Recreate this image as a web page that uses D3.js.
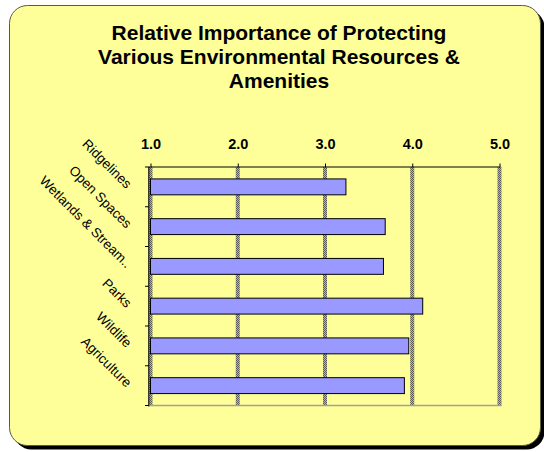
<!DOCTYPE html>
<html>
<head>
<meta charset="utf-8">
<script src="https://cdn.jsdelivr.net/npm/d3@7"></script>
<style>
  html, body { margin: 0; padding: 0; background: #ffffff; }
  svg { display: block; }
  text { font-family: "Liberation Sans", Arial, Helvetica, sans-serif; }
</style>
</head>
<body>
<svg id="chart" width="544" height="452"></svg>
<script>
const titleLines = ["Relative Importance of Protecting", "Various Environmental Resources &", "Amenities"];
const categories = ["Ridgelines", "Open Spaces", "Wetlands & Stream..", "Parks", "Wildlife", "Agriculture"];
const values = [3.24, 3.69, 3.67, 4.12, 3.96, 3.91];
const tickValues = [1, 2, 3, 4, 5];
const tickLabels = ["1.0", "2.0", "3.0", "4.0", "5.0"];

const svg = d3.select("#chart");
const plot = { left: 150.5, right: 499.5, top: 167, bottom: 405.5 };

const x = d3.scaleLinear().domain([1, 5]).range([plot.left, plot.right]);
const yBand = d3.scaleBand().domain(categories).range([plot.top, plot.bottom]).padding(0);
const yBar = d3.scaleBand().domain(categories).range([plot.top, plot.bottom])
  .paddingInner(0.6).paddingOuter(0.3);

// grid pattern (checkered grey like the original)
const defs = svg.append("defs");
const pat = defs.append("pattern").attr("id", "gridpat")
  .attr("width", 2).attr("height", 2).attr("patternUnits", "userSpaceOnUse");
pat.append("rect").attr("width", 2).attr("height", 2).attr("fill", "#b4b4b4");
pat.append("rect").attr("width", 1).attr("height", 1).attr("fill", "#5a5a5a");
pat.append("rect").attr("x", 1).attr("y", 1).attr("width", 1).attr("height", 1).attr("fill", "#5a5a5a");

// frame with shadow
svg.append("rect").attr("x", 13.5).attr("y", 9.5).attr("width", 531).attr("height", 440)
  .attr("rx", 18).attr("fill", "#000");
svg.append("rect").attr("x", 9.5).attr("y", 5.5).attr("width", 531).attr("height", 440)
  .attr("rx", 18).attr("fill", "#FFFF99").attr("stroke", "#5a5a40").attr("stroke-width", 1);

// title
const title = svg.append("text").attr("text-anchor", "middle")
  .attr("font-size", "21px").attr("font-weight", "bold").attr("fill", "#000");
titleLines.forEach((t, i) => {
  title.append("tspan").attr("x", 279).attr("y", 39.5 + i * 24.3).text(t);
});

// plot area fill
svg.append("rect").attr("x", plot.left).attr("y", plot.top)
  .attr("width", plot.right - plot.left).attr("height", plot.bottom - plot.top)
  .attr("fill", "#FFFF99");

// gridlines
svg.append("g").selectAll("rect").data(tickValues).join("rect")
  .attr("x", d => x(d) - 2).attr("y", plot.top)
  .attr("width", 4).attr("height", plot.bottom - plot.top)
  .attr("fill", "url(#gridpat)");

// bottom border of plot area
svg.append("line").attr("x1", plot.left - 2).attr("x2", plot.right + 2)
  .attr("y1", plot.bottom).attr("y2", plot.bottom)
  .attr("stroke", "#a0a0a0").attr("stroke-width", 1.5);

// bars
svg.append("g").selectAll("rect").data(categories).join("rect")
  .attr("x", x(1))
  .attr("y", (c) => yBar(c))
  .attr("width", (c, i) => x(values[i]) - x(1))
  .attr("height", yBar.bandwidth())
  .attr("fill", "#9999FF").attr("stroke", "#000").attr("stroke-width", 1);

// top value axis
const xAxis = d3.axisTop(x).tickValues(tickValues)
  .tickFormat((d, i) => tickLabels[i]).tickSize(3.5).tickSizeOuter(0).tickPadding(15);
const gx = svg.append("g").attr("transform", `translate(0,${plot.top})`).call(xAxis);
gx.select(".domain").attr("stroke", "#000").attr("stroke-width", 1.2)
  .attr("d", `M${plot.left - 2},0H${plot.right + 1}`);
gx.selectAll(".tick line").attr("stroke", "#000");
gx.selectAll(".tick text").attr("font-size", "14.5px").attr("font-weight", "bold")
  .attr("fill", "#000").attr("font-family", "'Liberation Sans', Arial, sans-serif")
  .attr("dy", 0);

// left category axis line and ticks at category boundaries
const gy = svg.append("g");
gy.append("line").attr("x1", plot.left - 1.7).attr("x2", plot.left - 1.7)
  .attr("y1", plot.top).attr("y2", plot.bottom + 1)
  .attr("stroke", "#000").attr("stroke-width", 1);
const bounds = categories.map(c => yBand(c)).concat([plot.bottom]);
gy.selectAll("line.tk").data(bounds).join("line").attr("class", "tk")
  .attr("x1", plot.left - 5.5).attr("x2", plot.left - 1.7)
  .attr("y1", d => d).attr("y2", d => d)
  .attr("stroke", "#000").attr("stroke-width", 1);

// rotated category labels
svg.append("g").selectAll("text").data(categories).join("text")
  .attr("transform", c => `translate(126,${yBand(c) + yBand.bandwidth() / 2 + 2.5}) rotate(45)`)
  .attr("text-anchor", "end")
  .attr("font-size", "13.5px").attr("fill", "#000")
  .text(c => c);
</script>
</body>
</html>
